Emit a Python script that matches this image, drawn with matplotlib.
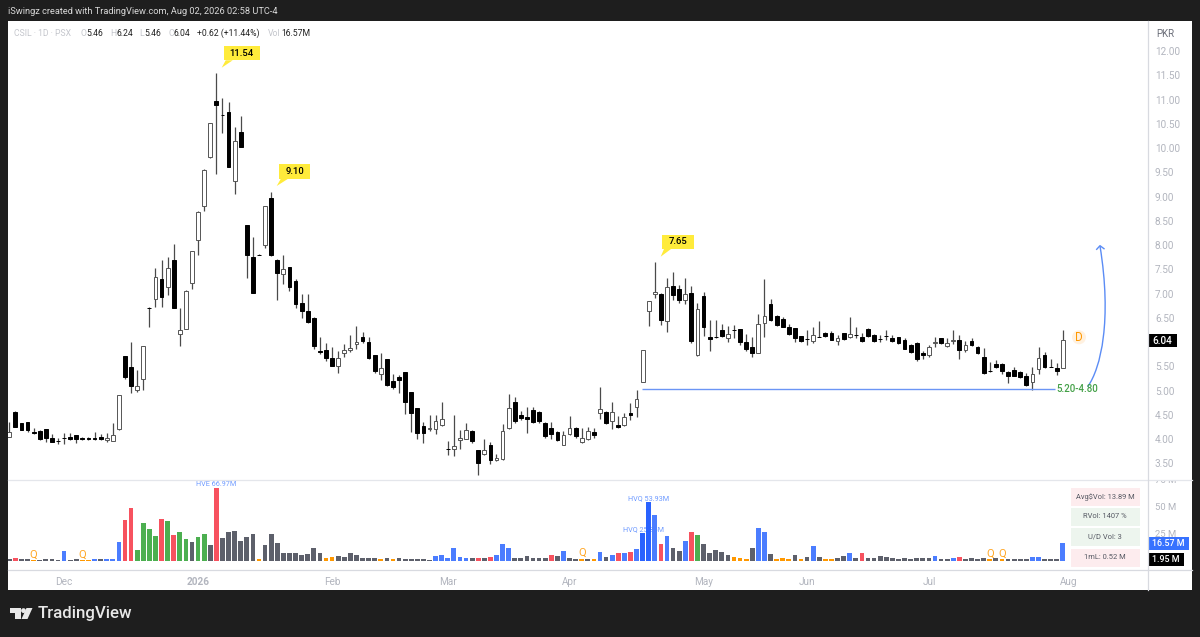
import matplotlib
matplotlib.use('Agg')
import matplotlib.pyplot as plt
from matplotlib.patches import Rectangle, Polygon, Circle, PathPatch
from matplotlib.path import Path
from matplotlib.transforms import Bbox

plt.rcParams['font.family'] = ['Roboto', 'DejaVu Sans']

W, H = 1200, 637

# daily candles, oldest first
opens = [
  4.05, 4.55, 4.32, 4.35, 4.14, 4.16, 4.20, 4.03, 3.96, 4.03,
  4.04, 4.08, 4.03, 4.03, 4.03, 4.05, 3.97, 3.95, 4.20, 5.71,
  5.48, 5.02, 5.23, 6.71, 6.89, 7.29, 7.13, 7.70, 6.16, 6.27,
  7.21, 8.10, 8.80, 9.81, 10.97, 10.69, 10.75, 9.32, 10.33, 8.41,
  7.76, 7.80, 8.00, 8.97, 7.69, 7.41, 7.54, 7.26, 6.80, 6.64,
  6.50, 5.81, 5.84, 5.68, 5.51, 5.77, 5.83, 5.95, 6.10, 5.99,
  5.73, 5.35, 5.64, 5.19, 5.27, 5.38, 4.96, 4.63, 4.27, 4.21,
  4.20, 4.29, 3.79, 3.79, 3.97, 4.01, 4.17, 3.77, 3.69, 3.88,
  3.56, 3.58, 4.22, 4.77, 4.49, 4.45, 4.59, 4.56, 4.34, 4.23,
  4.14, 3.88, 4.10, 4.23, 3.93, 3.99, 4.14, 4.54, 4.56, 4.38,
  4.28, 4.29, 4.54, 4.65, 5.18, 6.63, 7.00, 7.00, 6.44, 7.15,
  7.10, 6.87, 7.01, 5.73, 6.95, 6.11, 6.11, 6.25, 6.09, 6.25,
  6.26, 6.01, 5.89, 5.78, 6.40, 6.78, 6.54, 6.47, 6.31, 6.28,
  6.12, 6.06, 6.03, 6.11, 6.19, 6.19, 6.03, 6.18, 6.10, 6.14,
  6.11, 6.27, 6.14, 6.07, 6.12, 6.08, 6.10, 6.05, 5.94, 5.98,
  5.78, 5.73, 5.97, 6.08, 5.91, 6.02, 6.04, 5.84, 6.03, 5.89,
  5.69, 5.40, 5.55, 5.55, 5.39, 5.43, 5.39, 5.29, 5.18, 5.44,
  5.73, 5.49, 5.47, 5.46,
]
highs = [
  4.36, 4.57, 4.33, 4.36, 4.23, 4.19, 4.21, 4.10, 4.03, 4.12,
  4.12, 4.09, 4.04, 4.05, 4.14, 4.10, 4.12, 4.33, 4.91, 5.72,
  5.99, 5.42, 5.92, 6.72, 7.53, 7.69, 7.75, 8.03, 6.71, 7.07,
  7.88, 8.70, 9.56, 10.52, 11.54, 11.03, 10.94, 10.43, 10.67, 8.42,
  8.17, 7.81, 8.81, 9.10, 7.72, 7.80, 7.55, 7.30, 6.98, 6.98,
  6.51, 6.11, 5.97, 5.90, 5.82, 5.96, 6.14, 6.32, 6.20, 6.11,
  5.74, 5.77, 5.65, 5.34, 5.31, 5.39, 4.97, 4.64, 4.35, 4.49,
  4.49, 4.76, 3.96, 4.49, 4.19, 4.32, 4.18, 3.78, 4.01, 3.93,
  3.69, 4.31, 4.92, 4.87, 4.58, 4.67, 4.67, 4.57, 4.35, 4.36,
  4.17, 4.17, 4.47, 4.24, 4.22, 4.24, 4.22, 5.08, 4.57, 4.77,
  4.48, 4.54, 4.74, 5.02, 5.84, 6.85, 7.64, 7.01, 7.33, 7.44,
  7.17, 7.31, 7.15, 6.80, 7.04, 6.45, 6.45, 6.37, 6.32, 6.35,
  6.27, 6.16, 6.11, 6.58, 7.29, 6.88, 6.56, 6.51, 6.38, 6.29,
  6.13, 6.25, 6.30, 6.43, 6.21, 6.23, 6.14, 6.19, 6.52, 6.30,
  6.19, 6.29, 6.16, 6.14, 6.25, 6.15, 6.11, 6.09, 5.95, 5.99,
  5.82, 5.94, 6.11, 6.09, 6.08, 6.25, 6.14, 6.03, 6.08, 5.92,
  5.87, 5.59, 5.62, 5.57, 5.41, 5.48, 5.40, 5.37, 5.49, 5.90,
  5.80, 5.64, 5.57, 6.24,
]
lows = [
  4.05, 4.25, 4.18, 4.15, 4.10, 3.98, 3.93, 3.93, 3.90, 3.90,
  3.98, 3.92, 3.97, 3.98, 3.98, 3.98, 3.93, 3.95, 4.19, 5.23,
  4.95, 4.96, 5.02, 6.30, 6.73, 6.73, 6.97, 6.71, 5.92, 6.26,
  7.10, 7.80, 8.70, 9.80, 9.46, 10.32, 9.60, 9.05, 10.02, 7.33,
  7.01, 7.79, 7.94, 7.78, 6.87, 7.20, 7.06, 6.70, 6.50, 6.40,
  5.85, 5.75, 5.61, 5.50, 5.37, 5.70, 5.80, 5.86, 5.97, 5.64,
  5.37, 5.21, 5.10, 5.04, 4.94, 4.52, 4.14, 3.99, 3.91, 4.17,
  4.10, 4.27, 3.66, 3.65, 3.80, 3.99, 3.92, 3.25, 3.67, 3.49,
  3.55, 3.57, 4.21, 4.34, 4.39, 4.12, 4.34, 4.32, 4.03, 3.99,
  3.95, 3.87, 4.08, 4.03, 3.92, 3.98, 4.03, 4.41, 4.31, 4.20,
  4.22, 4.27, 4.39, 4.45, 5.17, 6.32, 6.90, 6.36, 6.21, 6.87,
  6.80, 6.78, 5.97, 5.72, 6.12, 5.81, 6.08, 6.10, 6.00, 6.08,
  5.94, 5.82, 5.70, 5.77, 6.11, 6.44, 6.32, 6.30, 6.14, 5.99,
  6.01, 5.94, 5.97, 6.10, 6.10, 6.04, 5.94, 6.05, 6.08, 6.08,
  6.00, 6.10, 6.01, 5.99, 6.05, 6.01, 5.96, 5.85, 5.78, 5.60,
  5.64, 5.70, 5.90, 5.95, 5.90, 5.95, 5.64, 5.79, 5.92, 5.75,
  5.35, 5.39, 5.46, 5.35, 5.15, 5.29, 5.25, 5.09, 5.01, 5.35,
  5.46, 5.48, 5.33, 5.46,
]
closes = [
  4.15, 4.25, 4.19, 4.19, 4.13, 4.01, 4.03, 3.94, 3.96, 4.02,
  4.01, 3.99, 3.99, 4.00, 4.01, 4.00, 4.03, 4.09, 4.90, 5.28,
  5.10, 5.10, 5.91, 6.71, 7.35, 6.93, 7.53, 6.71, 6.24, 7.06,
  7.87, 8.69, 9.55, 10.51, 10.88, 10.69, 9.61, 10.14, 10.03, 7.79,
  7.02, 7.80, 8.80, 7.79, 7.42, 7.51, 7.13, 6.78, 6.63, 6.41,
  5.92, 5.80, 5.68, 5.51, 5.68, 5.84, 5.88, 6.01, 6.03, 5.68,
  5.40, 5.46, 5.11, 5.08, 5.22, 4.77, 4.54, 4.12, 4.12, 4.23,
  4.38, 4.42, 3.79, 3.86, 4.02, 4.19, 3.96, 3.50, 3.77, 3.56,
  3.60, 4.16, 4.63, 4.38, 4.44, 4.41, 4.35, 4.37, 4.07, 4.11,
  3.98, 4.08, 4.23, 4.07, 4.02, 4.16, 4.08, 4.62, 4.34, 4.55,
  4.25, 4.45, 4.49, 4.82, 5.83, 6.84, 7.04, 6.45, 7.13, 6.96,
  6.87, 6.98, 6.02, 6.69, 6.31, 6.06, 6.11, 6.12, 6.16, 6.24,
  6.00, 5.86, 5.78, 6.37, 6.53, 6.46, 6.36, 6.31, 6.16, 6.08,
  6.03, 6.06, 6.14, 6.11, 6.12, 6.05, 6.08, 6.07, 6.17, 6.14,
  6.03, 6.12, 6.03, 6.07, 6.12, 6.03, 5.97, 5.86, 5.79, 5.65,
  5.73, 5.89, 6.01, 5.97, 5.97, 6.05, 5.84, 5.93, 5.94, 5.77,
  5.37, 5.40, 5.49, 5.40, 5.29, 5.30, 5.27, 5.11, 5.35, 5.68,
  5.48, 5.49, 5.40, 6.04,
]

# volume in millions and the bucket the indicator colours it by
volumes = [
  1.5, 3.1, 1.5, 1.5, 0.9, 0.6, 1.5, 1.5, 0.9, 8.9,
  0.6, 1.5, 0.9, 0.6, 1.5, 1.5, 1.8, 1.8, 17.8, 37.5,
  49.1, 10.4, 34.7, 29.2, 23.3, 38.4, 36.5, 23.9, 27.0, 20.6,
  17.8, 21.8, 24.6, 14.4, 66.97, 21.2, 26.4, 27.6, 18.1, 22.4,
  24.6, 1.8, 15.0, 24.6, 16.9, 7.1, 7.7, 7.7, 5.8, 6.4,
  11.7, 7.7, 3.1, 3.7, 4.9, 3.7, 7.1, 5.5, 2.5, 3.1,
  3.1, 1.5, 2.5, 1.5, 2.5, 1.8, 1.8, 1.8, 1.5, 1.2,
  4.9, 5.5, 3.1, 11.7, 3.7, 3.1, 2.5, 3.1, 3.1, 3.7,
  5.5, 15.7, 12.3, 3.1, 3.1, 4.3, 2.5, 2.5, 3.1, 5.5,
  4.9, 9.2, 3.1, 1.8, 2.1, 1.8, 1.5, 8.3, 3.4, 5.5,
  7.1, 7.4, 8.6, 11.0, 25.85, 53.93, 42.4, 15.7, 23.0, 12.3,
  8.9, 18.4, 26.4, 23.6, 15.7, 7.1, 10.4, 8.3, 5.5, 3.7,
  3.1, 1.8, 11.7, 30.4, 27.0, 6.1, 1.5, 2.8, 1.8, 5.5,
  1.5, 3.7, 13.8, 3.7, 1.8, 1.8, 3.1, 4.3, 7.4, 3.1,
  7.4, 2.5, 3.1, 4.3, 3.7, 3.1, 1.8, 2.5, 1.8, 2.5,
  2.5, 2.5, 4.3, 2.1, 1.5, 3.1, 3.7, 2.1, 2.8, 1.8,
  2.8, 1.5, 2.5, 1.5, 1.8, 1.8, 1.8, 1.8, 3.4, 3.4,
  1.8, 1.8, 1.8, 16.57,
]
vol_kinds = ''.join([
  'nrnnonnnnb', 'nnoobnbbbr', 'rggggrgrgg', 'nggnrnnnnn', 'nonnnnnnnn',
  'nnoonnnnnn', 'nononnnnnn', 'bbbbbbnrnr', 'bbbnnnnnnr', 'nbnnonobnb',
  'rbrbBBbrbn', 'nbrgnnnnno', 'oonbbnooon', 'onbnoonnbn', 'rnnnnnnnnn',
  'nnbnnbrnnn', 'nononnnnbb', 'nnnb',
])
vol_colors = {'n': '#5d606b', 'r': '#f7525f', 'g': '#4caf50', 'b': '#4b7dff', 'B': '#2962ff', 'o': '#ff9800'}
q_bars = [4, 12, 94, 161, 163]

# 6.00 sits behind the last price flag, so it has no label
price_ticks = [3.5, 4, 4.5, 5, 5.5, 6.5, 7, 7.5, 8, 8.5, 9, 9.5, 10, 10.5, 11, 11.5, 12]
vol_ticks = [25, 50, 75]
month_pos = [9, 31, 53, 72, 92, 114, 131, 151, 174]
month_labels = ['Dec', '2026', 'Feb', 'Mar', 'Apr', 'May', 'Jun', 'Jul', 'Aug']
stat_labels = ['Avg$Vol: 13.89 M', 'RVol: 1407 %', 'U/D Vol: 3', '1mL: 0.52 M']
stat_fills = ['#fdecee', '#edf5ee', '#edf5ee', '#fdecee']

DARK = '#1e1e1e'
GREY = '#b2b5be'


def axes_px(left, top, right, bottom, **kw):
  return fig.add_axes([left / W, 1 - bottom / H, (right - left) / W, (bottom - top) / H], **kw)


fig = plt.figure(figsize=(W / 100, H / 100), dpi=100, facecolor=DARK)

# backdrop for the white chart card
bg = axes_px(0, 0, W, H, zorder=0)
bg.set_xlim(0, W)
bg.set_ylim(H, 0)
bg.axis('off')
bg.add_patch(Rectangle((8, 21), 1184, 569, facecolor='white', edgecolor='none'))

# price pane
ax = axes_px(8, 21, 1148, 479, zorder=1)
xs = list(range(len(opens)))
ax.vlines(xs, lows, highs, color='#4a4a4a', lw=0.9, zorder=2)
for i in xs:
  up = closes[i] > opens[i]
  ax.bar(i, abs(closes[i] - opens[i]), bottom=min(opens[i], closes[i]), width=0.62,
         facecolor='white' if up else 'black', edgecolor='#555555' if up else 'black', lw=0.7, zorder=3)
ax.set_xlim(-0.213, 186.98)
ax.set_ylim(3.175, 12.62)
ax.set_xticks([])
ax.set_yticks(price_ticks, [f'{t:.2f}' for t in price_ticks])
ax.yaxis.tick_right()
ax.tick_params(axis='y', length=0, pad=5, labelsize=7.2, labelcolor=GREY)
for s in ax.spines.values():
  s.set_visible(False)

# support line from the breakout candle to the last low
ax.hlines(5.04, 103.9, 171.7, color='#6b95f5', lw=1.0, zorder=4)

# volume pane
vx = axes_px(8, 479, 1148, 569, zorder=1)
vx.bar(xs, volumes, width=0.78, color=[vol_colors[k] for k in vol_kinds], zorder=3)
vx.set_xlim(-0.213, 186.98)
vx.set_ylim(-7.37, 75.5)
vx.set_xticks(month_pos, month_labels)
vx.set_yticks(vol_ticks, [f'{t} M' for t in vol_ticks])
vx.yaxis.tick_right()
vx.tick_params(axis='y', length=0, pad=5, labelsize=6.8, labelcolor=GREY)
vx.tick_params(axis='x', length=0, pad=6, labelsize=7.2, labelcolor=GREY)
for s in vx.spines.values():
  s.set_visible(False)
vx.get_xticklabels()[1].set_fontweight('bold')
# the top volume label is cut by the pane divider
for lab in vx.get_yticklabels():
  lab.set_clip_on(True)
  lab.set_clip_box(Bbox([[1149, 0], [1192, H - 480]]))
for i in q_bars:
  vx.text(i, volumes[i] + 0.6, 'Q', color='#ffa726', fontsize=8, ha='center', va='bottom', zorder=4)
vx.text(34, 70.3, 'HVE 66.97M', color='#6f9bff', fontsize=5.2, ha='center', va='center', zorder=1)
vx.text(105, 57.2, 'HVQ 53.93M', color='#6f9bff', fontsize=5.2, ha='center', va='center', zorder=1)
vx.text(104.2, 28.5, 'HVQ 25.85M', color='#6f9bff', fontsize=5.2, ha='center', va='center', zorder=1)

# everything drawn in picture pixels on top
fg = axes_px(0, 0, W, H, zorder=5)
fg.set_xlim(0, W)
fg.set_ylim(H, 0)
fg.axis('off')
fg.patch.set_alpha(0)

fg.plot([8, 1192], [479.5, 479.5], color='#e4e6eb', lw=0.9)
fg.plot([8, 1192], [569.5, 569.5], color='#d8dae0', lw=0.9)
fg.plot([1148, 1148], [21, 590], color='#d8dae0', lw=0.9)

# header and legend
fg.text(8, 12, 'iSwingz created with TradingView.com, Aug 02, 2026 02:58 UTC-4', color='#d8d8d8',
        fontsize=6.7, va='center')
legend_row = [
  (14, 'CSIL · 1D · PSX', '#c4c6cc'), (80.7, 'O', '#c4c6cc'), (86.7, '5.46', '#222222'),
  (110, 'H', '#c4c6cc'), (116.3, '6.24', '#222222'), (139.7, 'L', '#c4c6cc'), (144.3, '5.46', '#222222'),
  (168.3, 'C', '#c4c6cc'), (173.3, '6.04', '#222222'), (197.3, '+0.62 (+11.44%)', '#222222'),
  (268.3, 'Vol', '#c4c6cc'), (281, '16.57M', '#222222'),
]
for x, label, col in legend_row:
  fg.text(x, 33, label, color=col, fontsize=6.2, va='center')
fg.text(1165, 34, 'PKR', color='#6a6d78', fontsize=7, ha='center', va='center')

# price callouts
callouts = [
  ('11.54', 223.7, 260, 45.7, 60.3, 221.7, 67.7),
  ('9.10', 278.7, 310.3, 164.3, 179, 276.7, 186),
  ('7.65', 662, 694, 235, 249, 660.7, 256.7),
]
for label, x0, x1, y0, y1, tx, ty in callouts:
  fg.add_patch(Rectangle((x0, y0), x1 - x0, y1 - y0, facecolor='#ffeb3b', edgecolor='none'))
  fg.add_patch(Polygon([(x0 + 2, y1), (x0 + 9, y1), (tx, ty)], facecolor='#ffeb3b', edgecolor='none'))
  fg.text((x0 + x1) / 2, (y0 + y1) / 2, label, color='black', fontsize=6.8, fontweight='medium',
          ha='center', va='center')

# projection arrow
curve = Path([(1087.7, 386.7), (1101, 368), (1112, 320), (1100, 246)],
             [Path.MOVETO, Path.CURVE4, Path.CURVE4, Path.CURVE4])
fg.add_patch(PathPatch(curve, facecolor='none', edgecolor='#5b8cf5', lw=1.0))
fg.plot([1096.7, 1100, 1104], [249.3, 245.7, 248.7], color='#5b8cf5', lw=1.0)
fg.text(1077.5, 388.7, '5.20-4.80', color='#43a047', fontsize=7, fontweight='medium', ha='center', va='center')

# dividend marker
fg.add_patch(Circle((1079, 337.3), 7, facecolor='#fff1e0', edgecolor='none'))
fg.text(1079, 337.5, 'D', color='#ff9800', fontsize=8.4, ha='center', va='center')

# last value flags
flags = [
  ('6.04', 1148, 1177, 334, 347, 'black', 7.2),
  ('16.57 M', 1148, 1189, 537, 549.7, '#3772ff', 6.4),
  ('1.95 M', 1148, 1184, 553, 566, 'black', 6.4),
]
for label, x0, x1, y0, y1, col, size in flags:
  fg.add_patch(Rectangle((x0, y0), x1 - x0, y1 - y0, facecolor=col, edgecolor='none'))
  fg.text((x0 + x1) / 2, (y0 + y1) / 2, label, color='white', fontsize=size, fontweight='medium',
          ha='center', va='center')

# stats table
stat_tops = [487.7, 508, 528.3, 548.7]
for top, label, fill in zip(stat_tops, stat_labels, stat_fills):
  fg.add_patch(Rectangle((1071, top), 68.7, 18, facecolor=fill, edgecolor='none'))
  fg.text(1105.3, top + 9, label, color='#555862', fontsize=5.4, ha='center', va='center')

# TradingView logo
fg.add_patch(Polygon([(9.5, 608), (21, 608), (21, 619), (15, 619), (15, 613), (9.5, 613)],
                     facecolor='#e8e8e8', edgecolor='none'))
fg.add_patch(Circle((23.5, 610.6), 2.4, facecolor='#e8e8e8', edgecolor='none'))
fg.add_patch(Polygon([(26.5, 608), (32.5, 608), (27.5, 619), (21.5, 619)], facecolor='#e8e8e8', edgecolor='none'))
fg.text(38, 613.5, 'TradingView', color='#e8e8e8', fontsize=12.2, fontweight='medium', va='center')

fig.savefig('out.png', dpi=100, facecolor=DARK)
